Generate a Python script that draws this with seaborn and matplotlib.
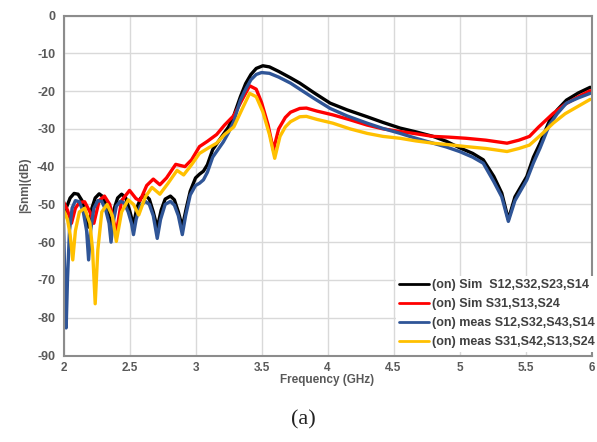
import numpy as np
import pandas as pd
import matplotlib
matplotlib.use("Agg")
import matplotlib.pyplot as plt
import seaborn as sns

# ---- data ----
labels = ["(on) Sim  S12,S32,S23,S14", "(on) Sim S31,S13,S24",
          "(on) meas S12,S32,S43,S14", "(on) meas S31,S42,S13,S24"]
colors = ["#000000", "#ff0000", "#2f5597", "#ffc000"]

f_sim12 = [2.00, 2.02, 2.05, 2.08, 2.11, 2.14, 2.165, 2.19, 2.215, 2.24, 2.27, 2.30, 2.33, 2.36,
           2.385, 2.41, 2.44, 2.47, 2.50, 2.53, 2.555, 2.585, 2.62, 2.65, 2.68, 2.71, 2.74, 2.77,
           2.81, 2.84, 2.87, 2.90, 2.93, 2.96, 3.00, 3.03, 3.06, 3.09, 3.13, 3.17, 3.21, 3.25,
           3.29, 3.34, 3.38, 3.42, 3.46, 3.51, 3.56, 3.63, 3.72, 3.79, 3.90, 4.02, 4.15, 4.30,
           4.42, 4.55, 4.67, 4.80, 4.90, 5.00, 5.10, 5.18, 5.26, 5.32, 5.37, 5.42, 5.51, 5.56,
           5.61, 5.68, 5.74, 5.81, 5.90, 5.99]
s_sim12 = [-53.5, -51, -48.3, -47.1, -47.3, -49, -52, -56, -51, -48.3, -47.2, -48, -51, -55.5,
           -51, -48.3, -47.3, -48.2, -51.5, -55.5, -51, -48.3, -47.6, -48.6, -52, -56.2, -51.5, -48.6,
           -47.8, -48.8, -52, -56, -51, -46.5, -43, -42, -41.2, -39.5, -35.5, -33.5, -31.5, -29.5,
           -26.5, -21.5, -18, -15.6, -14, -13.3, -13.6, -14.8, -16.5, -17.9, -20.5, -23.2, -25, -26.8,
           -28.3, -29.8, -30.8, -32, -33.3, -35, -36.5, -38.2, -42.6, -47, -54, -48, -42.6, -37.5,
           -33.8, -28, -25, -22.4, -20.5, -19]

f_sim31 = [2.00, 2.03, 2.06, 2.09, 2.12, 2.16, 2.20, 2.23, 2.27, 2.31, 2.35, 2.40, 2.44, 2.50,
           2.55, 2.58, 2.63, 2.68, 2.73, 2.78, 2.85, 2.92, 2.97, 3.03, 3.09, 3.16, 3.22, 3.29,
           3.35, 3.41, 3.46, 3.50, 3.55, 3.59, 3.63, 3.68, 3.72, 3.79, 3.84, 3.92, 4.04, 4.17,
           4.30, 4.42, 4.55, 4.67, 4.80, 4.92, 5.05, 5.20, 5.36, 5.45, 5.53, 5.60, 5.71, 5.80,
           5.90, 5.99]
s_sim31 = [-49.3, -51.5, -55, -51, -49.5, -49.3, -52, -55, -49, -47.8, -50, -57.5, -49, -46.3,
           -48.5, -49, -45, -43.3, -44.8, -43, -39.4, -40, -38.2, -34.7, -33.3, -31.5, -29, -26.5,
           -22.5, -18.6, -19.5, -23, -29, -35.6, -30, -27, -25.6, -24.6, -24.5, -25.3, -26.3, -27.6,
           -29, -30, -30.7, -31.3, -32, -32.2, -32.5, -33, -33.8, -33, -32, -29.5, -25.9, -23.5,
           -21.5, -19.9]

f_meas12 = [2.00, 2.01, 2.02, 2.03, 2.045, 2.065, 2.09, 2.12, 2.15, 2.175, 2.19, 2.205, 2.23, 2.26,
            2.29, 2.32, 2.345, 2.36, 2.375, 2.40, 2.43, 2.46, 2.49, 2.515, 2.53, 2.55, 2.58, 2.62,
            2.65, 2.68, 2.71, 2.735, 2.77, 2.81, 2.84, 2.87, 2.90, 2.925, 2.96, 3.00, 3.03, 3.06,
            3.09, 3.13, 3.17, 3.21, 3.25, 3.29, 3.34, 3.38, 3.42, 3.46, 3.50, 3.56, 3.63, 3.72,
            3.79, 3.90, 4.02, 4.15, 4.30, 4.42, 4.55, 4.67, 4.80, 4.90, 5.00, 5.10, 5.18, 5.26,
            5.32, 5.37, 5.42, 5.51, 5.56, 5.61, 5.68, 5.74, 5.81, 5.90, 5.99]
s_meas12 = [-55, -70, -82.7, -70, -57, -51, -49, -49.3, -52, -57, -64.7, -57, -51, -49,
            -49.2, -51.5, -55, -60, -55, -50.5, -49.2, -49.6, -52, -55, -58, -54, -50.5, -49.2,
            -50, -53, -59, -54, -50, -49.2, -50.2, -53, -58, -53, -47.5, -45, -44.4, -43.5,
            -41.5, -37.5, -35.5, -33.5, -31, -28, -22.4, -19.5, -17, -15.6, -15.1, -15.3, -16.3, -17.9,
            -19.5, -22, -24.6, -26.6, -28.5, -29.9, -31.2, -32.5, -33.8, -34.8, -36, -37.5, -39.1, -44,
            -48, -54.5, -49, -43.5, -39, -35.1, -29, -26, -23.2, -21.8, -20.6]

f_meas31 = [2.00, 2.03, 2.05, 2.07, 2.09, 2.12, 2.16, 2.20, 2.22, 2.24, 2.26, 2.29, 2.33, 2.37,
            2.40, 2.44, 2.49, 2.53, 2.57, 2.62, 2.67, 2.73, 2.79, 2.86, 2.91, 2.97, 3.03, 3.10,
            3.16, 3.22, 3.29, 3.35, 3.41, 3.46, 3.51, 3.56, 3.60, 3.64, 3.68, 3.72, 3.79, 3.84,
            3.92, 4.04, 4.17, 4.30, 4.42, 4.55, 4.67, 4.80, 4.92, 5.05, 5.20, 5.36, 5.45, 5.53,
            5.62, 5.71, 5.80, 5.90, 5.99]
s_meas31 = [-51.5, -54, -58, -64.7, -57, -52, -51, -55, -62, -76.3, -62, -52, -50, -53,
            -59.8, -52, -48.8, -50, -52.8, -48, -45.5, -47.3, -44.5, -41, -42.2, -39.5, -36.5, -35,
            -33.8, -31.5, -29.5, -25, -20.6, -21.5, -25.5, -31.5, -37.8, -32, -29.5, -28.1, -26.8, -26.7,
            -27.5, -28.5, -30, -31.2, -32, -32.5, -33.2, -33.8, -34.2, -34.7, -35.2, -36, -35.2, -34.3,
            -31.5, -28.5, -26, -24, -22.2]

x_ticks = [2, 2.5, 3, 3.5, 4, 4.5, 5, 5.5, 6]
x_ticklabels = ["2", "2.5", "3", "3.5", "4", "4.5", "5", "5.5", "6"]
y_ticks = [0, -10, -20, -30, -40, -50, -60, -70, -80, -90]

# ---- build long table ----
frames = []
for lab, fx, sy in zip(labels, [f_sim12, f_sim31, f_meas12, f_meas31],
                       [s_sim12, s_sim31, s_meas12, s_meas31]):
    frames.append(pd.DataFrame({"Frequency": fx, "dB": sy, "series": lab}))
df = pd.concat(frames, ignore_index=True)

sns.set_style("whitegrid")
plt.rcParams["font.family"] = ["Liberation Sans", "DejaVu Sans"]

fig = plt.figure(figsize=(5.97, 4.42), dpi=100)
ax = fig.add_axes([0.1064, 0.1957, 0.8844, 0.7692])

txt = "#595959"
sns.lineplot(data=df, x="Frequency", y="dB", hue="series", hue_order=labels,
             palette=colors, sort=False, estimator=None, linewidth=2.4, ax=ax)
for ln in ax.get_lines():
    ln.set_solid_joinstyle("round")
    ln.set_solid_capstyle("round")

ax.set_xlim(2, 6)
ax.set_ylim(-90, 0)
ax.set_xticks(x_ticks)
ax.set_xticklabels(x_ticklabels)
ax.set_yticks(y_ticks)
ax.set_yticklabels([str(v) for v in y_ticks])
ax.tick_params(axis="both", length=0, labelsize=9, labelcolor=txt, pad=6)
for lbl in ax.get_xticklabels() + ax.get_yticklabels():
    lbl.set_fontweight("bold")
ax.tick_params(axis="x", labelsize=8.5, pad=5)

ax.grid(True, color="#d9d9d9", linewidth=1.0)
for sp in ax.spines.values():
    sp.set_color("#8c8c8c")
    sp.set_linewidth(1.5)

ax.set_xlabel("Frequency (GHz)", fontsize=8.5, fontweight="bold", color=txt, labelpad=0)
ax.set_ylabel("|Snm|(dB)", fontsize=8.5, fontweight="bold", color=txt, labelpad=4)

leg = ax.legend(loc="lower right", bbox_to_anchor=(1.02, 0.0), frameon=True,
                handlelength=2.4, handletextpad=0.2, labelspacing=0.55,
                borderpad=0.3, borderaxespad=0.3, prop={"weight": "bold", "size": 9})
leg.get_frame().set_facecolor("white")
leg.get_frame().set_edgecolor("none")
leg.get_frame().set_alpha(1.0)
for t in leg.get_texts():
    t.set_color("#404040")
for h in leg.get_lines():
    h.set_linewidth(2.0)

fig.text(0.508, 0.05, "(a)", ha="center", va="center", fontsize=16,
         family=["Liberation Serif", "DejaVu Serif"], color="#222222")

fig.savefig("out.png", dpi=100)
